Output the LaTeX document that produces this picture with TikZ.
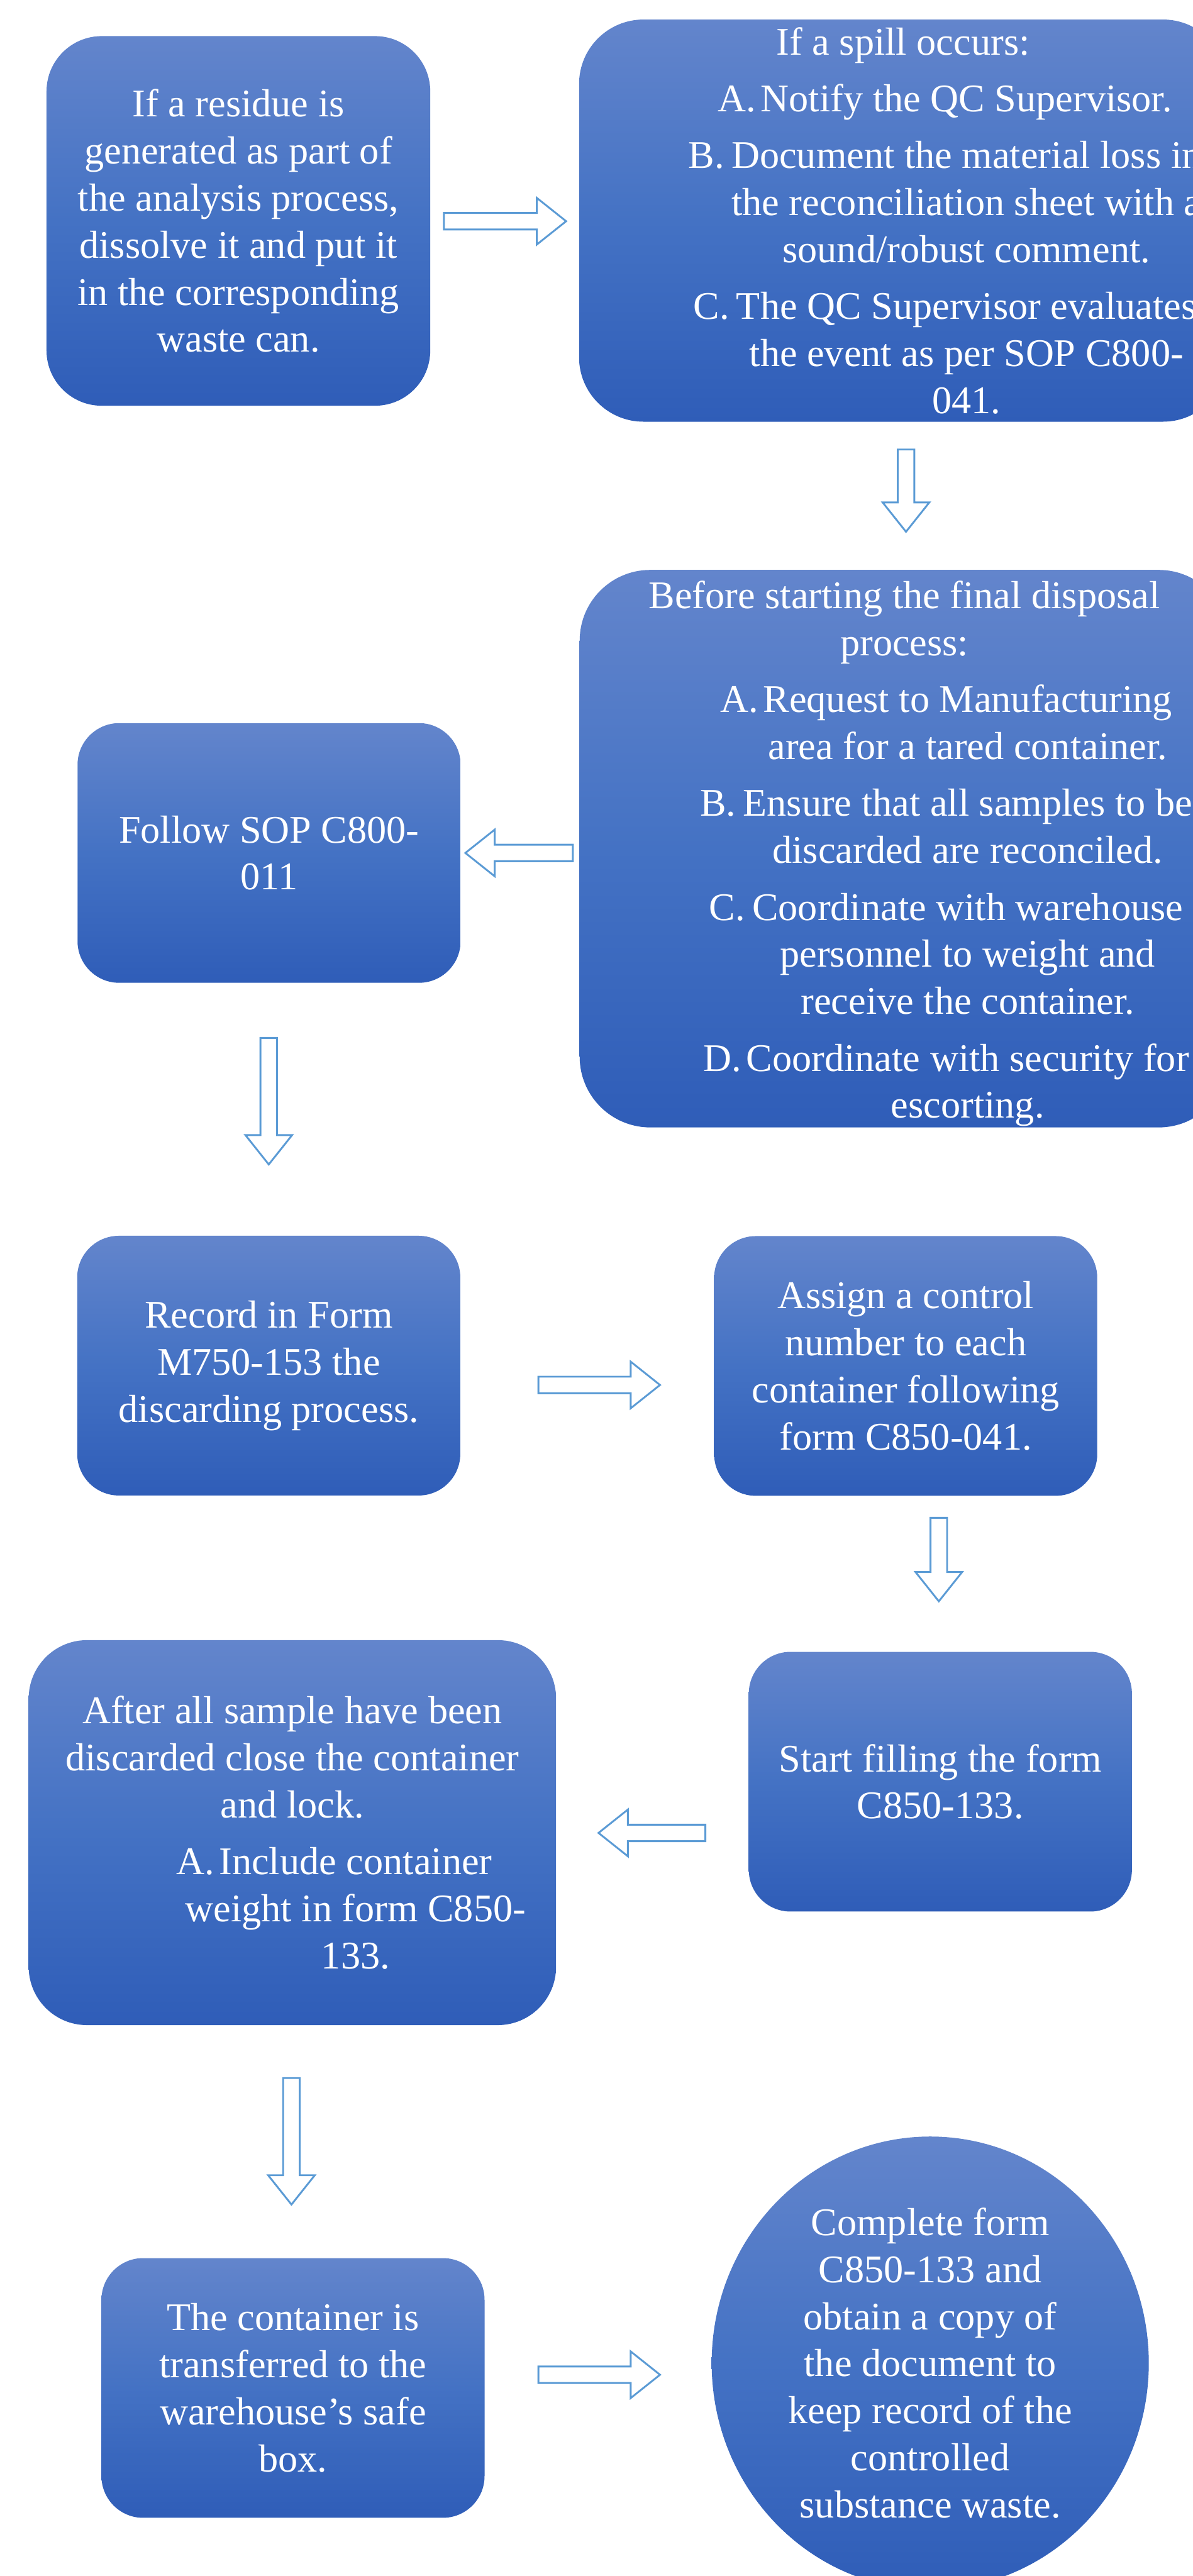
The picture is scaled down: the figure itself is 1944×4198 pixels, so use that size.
\documentclass[tikz,border=0pt]{standalone}
\usepackage{fontspec}
\setmainfont{Liberation Serif}
\usepackage{tikz}
\usetikzlibrary{shapes.arrows,shapes.geometric}
\definecolor{boxtop}{HTML}{6385CC}
\definecolor{boxmid}{HTML}{4472C4}
\definecolor{boxbot}{HTML}{2F5DB8}
\definecolor{arrowline}{HTML}{5B9BD5}
\newcommand\itmshift{2.06cm}
\newcommand\itemlbl[1]{\hspace*{\itmshift}\makebox[0pt][r]{\makebox[0.70cm][l]{#1}}}
\newcommand\contline{\hspace*{\itmshift}}
\tikzset{
  box/.style={rectangle, top color=boxtop, bottom color=boxbot, middle color=boxmid,
    text=white, align=center, inner sep=0pt,
    font=\fontsize{18.15}{21.82}\selectfont},
  smallbox/.style={box, minimum width=6.24cm, minimum height=4.23cm, rounded corners=0.68cm},
  roundbox/.style={ellipse, top color=boxtop, bottom color=boxbot, middle color=boxmid,
    text=white, align=center, inner sep=0pt,
    font=\fontsize{18.15}{21.82}\selectfont},
  blockarrow/.style={single arrow, draw=arrowline, fill=white, line width=0.85pt,
    anchor=tail, inner sep=0.12cm, text height=0pt, text depth=0pt, text width=0pt,
    minimum width=0.73cm, single arrow head extend=0.245cm, single arrow tip angle=77},
}

\begin{document}
\begin{tikzpicture}[x=0.01cm, y=-0.01cm]
  \useasboundingbox (0,0) rectangle (1944,4198);
  \clip (0,0) rectangle (1944,4198);

  % first row
  \node[box, minimum width=6.25cm, minimum height=6.02cm, rounded corners=0.9cm] (residue) at (388.5,360)
    {If a residue is\\generated as part of\\the analysis process,\\dissolve it and put it\\in the corresponding\\waste can.};
  \node[box, minimum width=10.56cm, minimum height=6.55cm, rounded corners=1.05cm] (spill) at (1472,359.5)
    {If a spill occurs:\\[4.5pt]
     \itemlbl{A.}Notify the QC Supervisor.\\[4.5pt]
     \itemlbl{B.}Document the material loss in\\
     \contline the reconciliation sheet with a\\
     \contline sound/robust comment.\\[4.5pt]
     \itemlbl{C.}The QC Supervisor evaluates\\
     \contline the event as per SOP C800-\\
     \contline 041.};

  % second row
  \node[box, minimum width=10.58cm, minimum height=9.08cm, rounded corners=1.15cm] (before) at (1474,1383)
    {\rule{0pt}{17.5pt}Before starting the final disposal\\process:\\[4.5pt]
     \itemlbl{A.}Request to Manufacturing\\
     \contline area for a tared container.\\[4.5pt]
     \itemlbl{B.}Ensure that all samples to be\\
     \contline discarded are reconciled.\\[4.5pt]
     \itemlbl{C.}Coordinate with warehouse\\
     \contline personnel to weight and\\
     \contline receive the container.\\[4.5pt]
     \itemlbl{D.}Coordinate with security for\\
     \contline escorting.};
  \node[smallbox] (follow) at (438.5,1390) {Follow SOP C800-\\011};

  % third row
  \node[smallbox] (record) at (438,2225.5) {Record in Form\\M750-153 the\\discarding process.};
  \node[smallbox] (assign) at (1476,2226) {Assign a control\\number to each\\container following\\form C850-041.};

  % fourth row
  \node[smallbox] (start) at (1532.5,2903.5) {Start filling the form\\C850-133.};
  \node[box, minimum width=8.59cm, minimum height=6.27cm, rounded corners=0.95cm] (after) at (476.5,2986.5)
    {After all sample have been\\discarded close the container\\and lock.\\[4.5pt]
     \itemlbl{A.}Include container\\
     \contline weight in form C850-\\
     \contline 133.};

  % last row
  \node[smallbox] (safe) at (477.5,3891.5) {The container is\\transferred to the\\warehouse’s safe\\box.};
  \node[roundbox, minimum width=7.12cm, minimum height=7.38cm] (complete) at (1516,3851)
    {Complete form\\C850-133 and\\obtain a copy of\\the document to\\keep record of the\\controlled\\substance waste.};

  % block arrows, placed by their tails
  \node[blockarrow, minimum height=1.99cm] (a1) at (722,360.5) {};
  \node[blockarrow, minimum height=1.34cm, shape border rotate=270] (a2) at (1476.5,731) {};
  \node[blockarrow, minimum height=1.75cm, shape border rotate=180] (a3) at (935,1390) {};
  \node[blockarrow, minimum height=2.06cm, shape border rotate=270] (a4) at (438,1690) {};
  \node[blockarrow, minimum height=1.98cm] (a5) at (876,2257) {};
  \node[blockarrow, minimum height=1.36cm, shape border rotate=270] (a6) at (1530,2472) {};
  \node[blockarrow, minimum height=1.74cm, shape border rotate=180] (a7) at (1151,2987) {};
  \node[blockarrow, minimum height=2.06cm, shape border rotate=270] (a8) at (475,3385) {};
  \node[blockarrow, minimum height=1.98cm] (a9) at (876,3870) {};
\end{tikzpicture}
\end{document}
